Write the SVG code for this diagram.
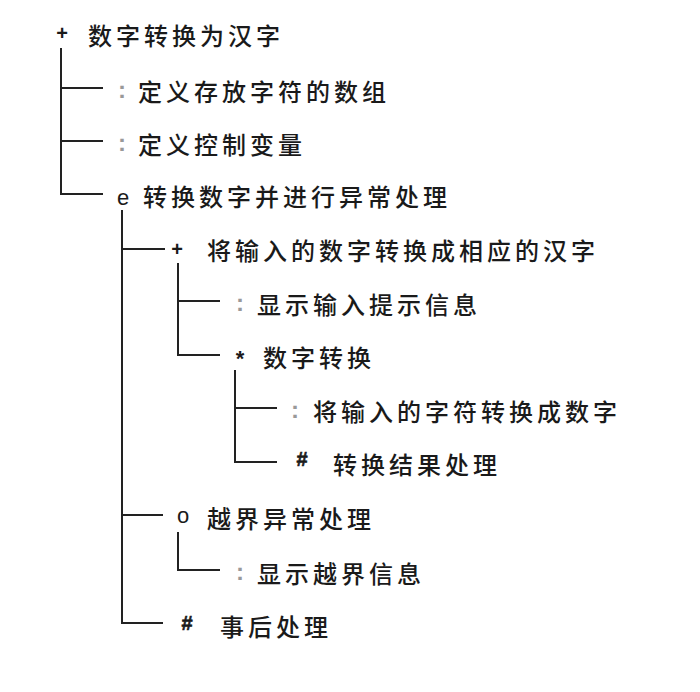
<svg xmlns="http://www.w3.org/2000/svg" width="700" height="692" viewBox="0 0 700 692">
<style>
.t{font-family:"Noto Sans CJK SC","Noto Sans",sans-serif;font-size:24px;font-weight:500;letter-spacing:4px;fill:#1a1a1a;dominant-baseline:central}
.m{font-family:"Liberation Sans","DejaVu Sans",sans-serif;fill:#1a1a1a;text-anchor:middle}
.p{font-size:20px;font-weight:bold}
.k{font-size:24px;font-weight:bold;fill:#999}
.e{font-size:22px}
.s{font-size:22px;font-weight:bold}
.h{font-size:20px;font-weight:bold;stroke:#1a1a1a;stroke-width:0.6}
.c{stroke:#222;stroke-width:2;fill:none}
</style>
<rect width="700" height="692" fill="#fff"/>
<g id="connectors" class="c">
<path d="M61 48V194H103M61 88H103M61 141H103"/>
<path d="M122 210V623H163M122 249H165M122 515H163"/>
<path d="M178 263V355H220M178 301H220"/>
<path d="M235 370V462H277M235 408H277"/>
<path d="M178 532V570H220"/>
</g>
<g id="n0"><text class="m p" x="62" y="40">+</text><text class="t" x="88" y="34">数字转换为汉字</text></g>
<g id="n1"><text class="m k" x="122" y="98">:</text><text class="t" x="138" y="90">定义存放字符的数组</text></g>
<g id="n2"><text class="m k" x="122" y="151">:</text><text class="t" x="138" y="143">定义控制变量</text></g>
<g id="n3"><text class="m e" x="123" y="205">e</text><text class="t" x="143" y="195">转换数字并进行异常处理</text></g>
<g id="n4"><text class="m p" x="177" y="256">+</text><text class="t" x="207" y="249">将输入的数字转换成相应的汉字</text></g>
<g id="n5"><text class="m k" x="240" y="311">:</text><text class="t" x="257" y="303">显示输入提示信息</text></g>
<g id="n6"><text class="m s" x="240" y="366">*</text><text class="t" x="263" y="356">数字转换</text></g>
<g id="n7"><text class="m k" x="295" y="418">:</text><text class="t" x="313" y="410">将输入的字符转换成数字</text></g>
<g id="n8"><text class="m h" x="302" y="466">#</text><text class="t" x="333" y="463">转换结果处理</text></g>
<g id="n9"><text class="m e" x="183" y="523">o</text><text class="t" x="207" y="517">越界异常处理</text></g>
<g id="n10"><text class="m k" x="240" y="580">:</text><text class="t" x="257" y="572">显示越界信息</text></g>
<g id="n11"><text class="m h" x="187" y="630">#</text><text class="t" x="220" y="625">事后处理</text></g>
</svg>
